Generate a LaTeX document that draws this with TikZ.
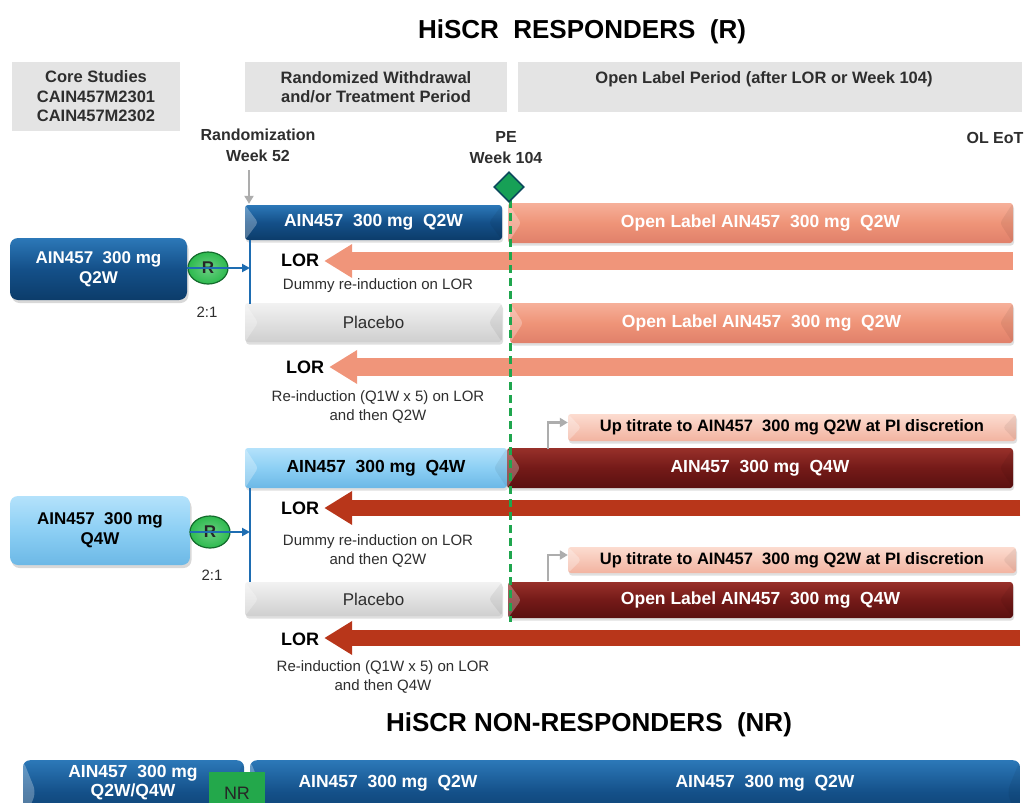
\documentclass[tikz,border=0pt]{standalone}
\usepackage{fontspec}
\setmainfont{Liberation Sans}
\usetikzlibrary{arrows.meta,shadows,shapes.geometric}

\definecolor{hdrgray}{HTML}{E4E4E4}
\definecolor{dblueT}{HTML}{2C78B8}
\definecolor{dblueM}{HTML}{145089}
\definecolor{dblueB}{HTML}{0C3C6A}
\definecolor{lblueT}{HTML}{B4E2FB}
\definecolor{lblueM}{HTML}{8CCFF4}
\definecolor{lblueB}{HTML}{6CB8E6}
\definecolor{salT}{HTML}{F6B09A}
\definecolor{salM}{HTML}{EF9478}
\definecolor{salB}{HTML}{E0806A}
\definecolor{redT}{HTML}{98302A}
\definecolor{redM}{HTML}{741A18}
\definecolor{redB}{HTML}{5A1010}
\definecolor{upT}{HTML}{FCDCD0}
\definecolor{upB}{HTML}{F2B3A0}
\definecolor{plT}{HTML}{F2F2F2}
\definecolor{plB}{HTML}{CFCFCF}
\definecolor{lorSal}{HTML}{F0957A}
\definecolor{lorRed}{HTML}{B8361A}
\definecolor{linkblue}{HTML}{1E6DB2}
\definecolor{rgreen}{HTML}{2DBA4E}
\definecolor{rgreenD}{HTML}{136B2C}
\definecolor{pegreen}{HTML}{17A056}
\definecolor{peedge}{HTML}{0B4A5C}
\definecolor{dashgreen}{HTML}{1FA64E}
\definecolor{nrgreen}{HTML}{23A84B}
\definecolor{txtgray}{HTML}{2E2E2E}

\tikzset{
  hdr/.style={fill=hdrgray, inner sep=0pt, align=center,
    font=\fontsize{16.5}{19.5}\selectfont\bfseries, text=txtgray},
  bevel/.style={path picture={
    \fill[white,opacity=.28] (path picture bounding box.north west)
      -- ([xshift=13pt]path picture bounding box.west)
      -- (path picture bounding box.south west) -- cycle;
    \fill[black,opacity=.06] (path picture bounding box.north east)
      -- ([xshift=-13pt]path picture bounding box.east)
      -- (path picture bounding box.south east) -- cycle;}},
  bar/.style={rounded corners=3pt, inner sep=0pt, bevel,
    font=\fontsize{17.5}{20}\selectfont\bfseries,
    drop shadow={opacity=.25, shadow xshift=1pt, shadow yshift=-2.5pt}},
  darkblue/.style={top color=dblueT, bottom color=dblueB, middle color=dblueM, text=white},
  lightblue/.style={top color=lblueT, bottom color=lblueB, middle color=lblueM, text=black},
  salmon/.style={top color=salT, bottom color=salB, middle color=salM, text=white},
  darkred/.style={top color=redT, bottom color=redB, middle color=redM, text=white},
  placebo/.style={top color=plT, bottom color=plB, text=txtgray,
    font=\fontsize{17}{20}\selectfont},
  uptit/.style={top color=upT, bottom color=upB, text=black,
    font=\fontsize{16.5}{19}\selectfont\bfseries},
  startbox/.style={rounded corners=8pt, inner sep=0pt, align=center,
    font=\fontsize{17}{20}\selectfont\bfseries,
    drop shadow={opacity=.3, shadow xshift=1.5pt, shadow yshift=-3pt}},
  nrbar/.style={rounded corners=7pt, inner sep=0pt, bevel,
    top color=dblueT, bottom color=dblueB, middle color=dblueM},
  rnd/.style={ellipse, draw=rgreenD, line width=1.2pt, inner sep=0pt,
    minimum width=40pt, minimum height=32pt,
    inner color=rgreen!70!white, outer color=rgreen,
    font=\fontsize{17}{20}\selectfont\bfseries, text=black!85},
  lor/.style={font=\fontsize{18}{21}\selectfont\bfseries, inner sep=1pt},
  note/.style={font=\fontsize{15}{18.5}\selectfont, align=center, text=txtgray},
  marklbl/.style={font=\fontsize{16}{21}\selectfont\bfseries, align=center, text=txtgray},
  title/.style={font=\fontsize{26}{30}\selectfont\bfseries},
  nrtext/.style={font=\fontsize{17.5}{19}\selectfont\bfseries, text=white, align=center},
  lorsal/.style={line width=18pt, lorSal, -{Triangle[length=28pt,width=32pt]}},
  lorred/.style={line width=16pt, lorRed, -{Triangle[length=28pt,width=32pt]}},
  link/.style={linkblue, line width=2.2pt, -{Triangle[length=8pt,width=8pt]}},
  splitline/.style={linkblue, line width=2.6pt},
  grayarrow/.style={black!32, line width=2.5pt, -{Triangle[length=8pt,width=9pt]}},
}

\begin{document}
\begin{tikzpicture}[x=1pt, y=-1pt]
\path[use as bounding box, clip] (0,0) rectangle (1026,803);
\fill[white] (0,0) rectangle (1026,803);

% titles
\node[title] (ttlR) at (582,32) {HiSCR\ \ RESPONDERS\ \ (R)};
\node[title] (ttlNR) at (589,725) {HiSCR NON-RESPONDERS\ \ (NR)};

% period headers
\node[hdr, minimum width=168pt, minimum height=69pt] (hcore) at (96,96.5)
  {Core Studies\\CAIN457M2301\\CAIN457M2302};
\node[hdr, minimum width=262pt, minimum height=50pt] (hrw) at (376,87)
  {Randomized Withdrawal\\and/or Treatment Period};
\node[hdr, minimum width=504pt, minimum height=50pt, anchor=north] (hol) at (770,62) {};
\node[hdr, anchor=north] (holt) at (764,71) {Open Label Period (after LOR or Week 104)};

% timeline markers
\node[marklbl] (rz) at (258,145) {Randomization\\Week 52};
\node[marklbl] (pelbl) at (506,148) {PE\\Week 104};
\node[marklbl] (eot) at (995,138) {OL EoT};

% ---------- responders, Q2W arm ----------
\node[startbox, darkblue, minimum width=177pt, minimum height=62pt] (L1) at (98.5,269)
  {AIN457\ \ 300 mg\\Q2W};
\node[bar, darkblue, minimum width=257pt, minimum height=35pt] (b1) at (373.5,222.5)
  {AIN457\ \ 300 mg\ \ Q2W};
\node[bar, salmon, minimum width=505pt, minimum height=40pt] (o1) at (760.5,223)
  {Open Label AIN457\ \ 300 mg\ \ Q2W};
\node[bar, placebo, minimum width=257pt, minimum height=39pt] (p1) at (373.5,322.5) {Placebo};
\node[bar, salmon, minimum width=503pt, minimum height=40pt] (o2) at (761.5,323)
  {Open Label AIN457\ \ 300 mg\ \ Q2W};

\coordinate (v1top) at (250,240);
\coordinate (v1bot) at (250,304);
\draw[splitline] (v1top) -- (v1bot);
\node[rnd] (R1) at (208,268) {R};
\draw[link] (L1.east |- R1) -- (v1top |- R1);
\node[note] (ratio1) at (207,312) {2:1};

\node[lor] (lor1) at (300,260) {LOR};
\coordinate (t1) at (1013,261);
\draw[lorsal] (t1) -- ([xshift=4pt]lor1.east |- t1);
\node[note] (n1) at (378,286) {Dummy re-induction on LOR};

\node[lor] (lor2) at (305,367) {LOR};
\coordinate (t2) at (1013,367);
\draw[lorsal] (t2) -- ([xshift=4pt]lor2.east |- t2);
\node[note] (n2) at (378,407) {Re-induction (Q1W x 5) on LOR\\and then Q2W};

% ---------- responders, Q4W arm ----------
\node[bar, uptit, minimum width=448pt, minimum height=27pt] (u1) at (792,427.5)
  {Up titrate to AIN457\ \ 300 mg Q2W at PI discretion};
\node[bar, lightblue, minimum width=262pt, minimum height=40pt] (b2) at (376,468)
  {AIN457\ \ 300 mg\ \ Q4W};
\node[bar, darkred, minimum width=506pt, minimum height=40pt] (r1) at (760,468)
  {AIN457\ \ 300 mg\ \ Q4W};
\coordinate (e1) at (548,449);
\draw[grayarrow] (e1) |- ([yshift=5pt]u1.west);

\node[startbox, lightblue, minimum width=180pt, minimum height=69pt] (L2) at (100,530.5)
  {AIN457\ \ 300 mg\\Q4W};

\coordinate (v2top) at (250,488);
\coordinate (v2bot) at (250,582);
\draw[splitline] (v2top) -- (v2bot);
\node[rnd] (R2) at (210,532) {R};
\draw[link] (L2.east |- R2) -- (v2top |- R2);
\node[note] (ratio2) at (212,575) {2:1};

\node[lor] (lor3) at (300,508) {LOR};
\coordinate (t3) at (1020,508);
\draw[lorred] (t3) -- ([xshift=4pt]lor3.east |- t3);
\node[note] (n3) at (378,551) {Dummy re-induction on LOR\\and then Q2W};

\node[bar, uptit, minimum width=448pt, minimum height=26pt] (u2) at (792,560)
  {Up titrate to AIN457\ \ 300 mg Q2W at PI discretion};
\node[bar, placebo, minimum width=257pt, minimum height=34pt] (p2) at (373.5,599) {Placebo};
\node[bar, darkred, minimum width=505pt, minimum height=36pt] (r2) at (760.5,600)
  {Open Label AIN457\ \ 300 mg\ \ Q4W};
\coordinate (e2) at (548,581);
\draw[grayarrow] (e2) |- ([yshift=5pt]u2.west);

\node[lor] (lor4) at (300,639) {LOR};
\coordinate (t4) at (1020,638);
\draw[lorred] (t4) -- ([xshift=4pt]lor4.east |- t4);
\node[note] (n4) at (383,677) {Re-induction (Q1W x 5) on LOR\\and then Q4W};

% randomization arrow, primary endpoint and its dashed line
\coordinate (rzarr) at (249,170);
\draw[grayarrow, line width=2pt] (rzarr) -- ([yshift=1pt]b1.north -| rzarr);
\coordinate (peend) at (510,622);
\draw[dashgreen, line width=3pt, dash pattern=on 8pt off 5pt] (510,200) -- (peend);
\node[diamond, fill=pegreen, draw=peedge, line width=1.6pt, inner sep=0pt,
  minimum width=30pt, minimum height=30pt] (pe) at (509,187) {};

% ---------- non-responders ----------
\node[nrbar, minimum width=221pt, minimum height=64pt, anchor=north] (nrL) at (133.5,760) {};
\node[nrbar, minimum width=770pt, minimum height=64pt, anchor=north] (nrR) at (635,760) {};
\node[nrtext] (nrLt) at (133,782.5) {AIN457\ \ 300 mg\\Q2W/Q4W};
\node[fill=nrgreen, minimum width=56pt, minimum height=40pt, inner sep=0pt, anchor=north,
  font=\fontsize{18}{20}\selectfont, text=black!85] (nrtag) at (237,772) {};
\node[font=\fontsize{18}{20}\selectfont, text=black!85] (nrtagt) at (237,793) {NR};
\node[nrtext] (nr1) at (388,783) {AIN457\ \ 300 mg\ \ Q2W};
\node[nrtext] (nr2) at (765,783) {AIN457\ \ 300 mg\ \ Q2W};
\end{tikzpicture}
\end{document}
